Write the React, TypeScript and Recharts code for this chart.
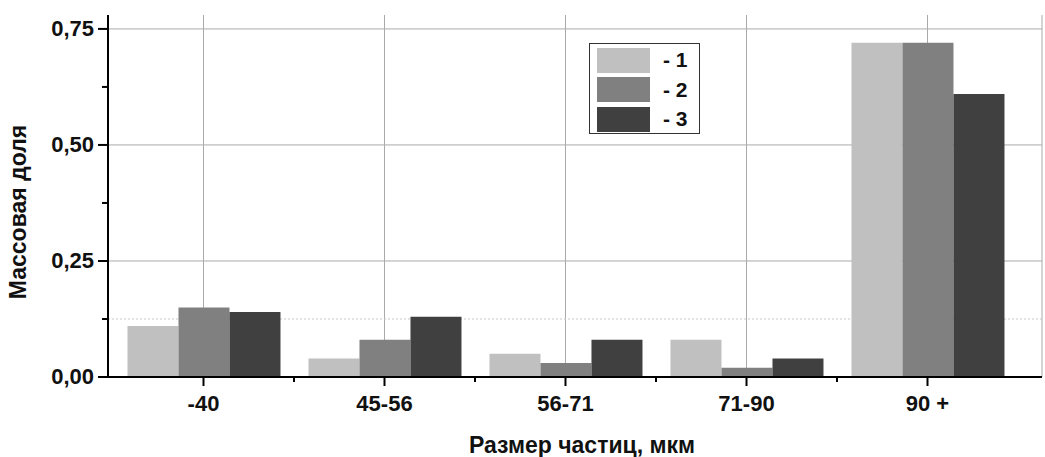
import { Bar, BarChart, CartesianGrid, XAxis, YAxis } from 'recharts';

const categories = ['-40', '45-56', '56-71', '71-90', '90 +'];
const series1 = [0.11, 0.04, 0.05, 0.08, 0.72];
const series2 = [0.15, 0.08, 0.03, 0.02, 0.72];
const series3 = [0.14, 0.13, 0.08, 0.04, 0.61];
const yMajorTicks = [0, 0.25, 0.5, 0.75];
const yMinorTicks = [0.125, 0.375, 0.625];
const seriesNames = ['- 1', '- 2', '- 3'];
const seriesColors = ['#c0c0c0', '#808080', '#404040'];

const data = categories.map((name, i) => ({
  name,
  s1: series1[i],
  s2: series2[i],
  s3: series3[i],
}));

const WIDTH = 1045;
const HEIGHT = 457;
const MARGIN = { top: 15, right: 3, bottom: 0, left: 0 };
const Y_AXIS_W = 108;
const X_AXIS_H = 80;
const X_PAD = { left: 5, right: 24 };
const FONT = '"Liberation Sans", Arial, sans-serif';
const BAND = (WIDTH - Y_AXIS_W - MARGIN.right - X_PAD.left - X_PAD.right) / categories.length;

const fmt = (v: number) => v.toFixed(2).replace('.', ',');

// y ticks: long marks with labels on the quarter values, short unlabeled marks between
function YTick(props: any) {
  const { x, y, payload } = props;
  const major = yMajorTicks.includes(payload.value);
  const axisX = x + 8;
  return (
    <g>
      <line x1={axisX - (major ? 10 : 6)} x2={axisX} y1={y} y2={y} stroke="#000" strokeWidth={2} />
      {major && (
        <text x={axisX - 14} y={y} dy={7} textAnchor="end" fontFamily={FONT} fontWeight="bold" fontSize={22} fill="#111">
          {fmt(payload.value)}
        </text>
      )}
    </g>
  );
}

function XTick(props: any) {
  const { x, y, payload, index } = props;
  const last = index === categories.length - 1;
  const axisY = y - 8;
  return (
    <g>
      <line x1={x} x2={x} y1={axisY} y2={axisY + 9} stroke="#000" strokeWidth={2} />
      {!last && <line x1={x + BAND / 2} x2={x + BAND / 2} y1={axisY} y2={axisY + 5} stroke="#000" strokeWidth={2} />}
      <text x={x} y={axisY} dy={34} textAnchor="middle" fontFamily={FONT} fontWeight="bold" fontSize={22} fill="#111">
        {payload.value}
      </text>
    </g>
  );
}

function LegendBox() {
  return (
    <div
      style={{
        position: 'absolute',
        left: 589,
        top: 43,
        width: 111,
        height: 91,
        border: '1.5px solid #333',
        background: '#fff',
        boxSizing: 'border-box',
      }}
    >
      {seriesNames.map((name, i) => (
        <div key={name} style={{ position: 'absolute', left: 7, top: 3 + i * 29.5, height: 26, display: 'flex', alignItems: 'center' }}>
          <div style={{ width: 53, height: 25, background: seriesColors[i] }} />
          <span style={{ marginLeft: 13, fontFamily: FONT, fontWeight: 'bold', fontSize: 21, color: '#111' }}>{name}</span>
        </div>
      ))}
    </div>
  );
}

export default function App() {
  return (
    <div style={{ position: 'absolute', left: 0, top: 0, width: WIDTH, height: HEIGHT, background: '#fff' }}>
      <BarChart width={WIDTH} height={HEIGHT} data={data} margin={MARGIN} barCategoryGap="8%" barGap={0}>
        <CartesianGrid stroke="#aaa" strokeWidth={1} horizontalValues={yMajorTicks.slice(1)} />
        {/* dotted minor gridline at 0.125, kept behind the bars */}
        <CartesianGrid stroke="#c8c8c8" strokeDasharray="2 2" vertical={false} horizontalValues={[yMinorTicks[0]]} />
        <XAxis
          dataKey="name"
          padding={X_PAD}
          height={X_AXIS_H}
          stroke="#000"
          strokeWidth={2}
          tickLine={false}
          tick={<XTick />}
          interval={0}
        />
        <YAxis
          domain={[0, 0.78]}
          ticks={[...yMajorTicks, ...yMinorTicks].sort((a, b) => a - b)}
          width={Y_AXIS_W}
          stroke="#000"
          strokeWidth={2}
          tickLine={false}
          tick={<YTick />}
          interval={0}
          allowDataOverflow
        />
        <Bar dataKey="s1" fill={seriesColors[0]} isAnimationActive={false} />
        <Bar dataKey="s2" fill={seriesColors[1]} isAnimationActive={false} />
        <Bar dataKey="s3" fill={seriesColors[2]} isAnimationActive={false} />
      </BarChart>
      <LegendBox />
      <div
        style={{
          position: 'absolute',
          left: 582,
          top: 445,
          transform: 'translate(-50%, -50%)',
          whiteSpace: 'nowrap',
          fontFamily: FONT,
          fontWeight: 'bold',
          fontSize: 23,
          color: '#111',
        }}
      >
        Размер частиц, мкм
      </div>
      <div
        style={{
          position: 'absolute',
          left: 18,
          top: 212,
          transform: 'translate(-50%, -50%) rotate(-90deg)',
          whiteSpace: 'nowrap',
          fontFamily: FONT,
          fontWeight: 'bold',
          fontSize: 23,
          color: '#111',
        }}
      >
        Массовая доля
      </div>
    </div>
  );
}
